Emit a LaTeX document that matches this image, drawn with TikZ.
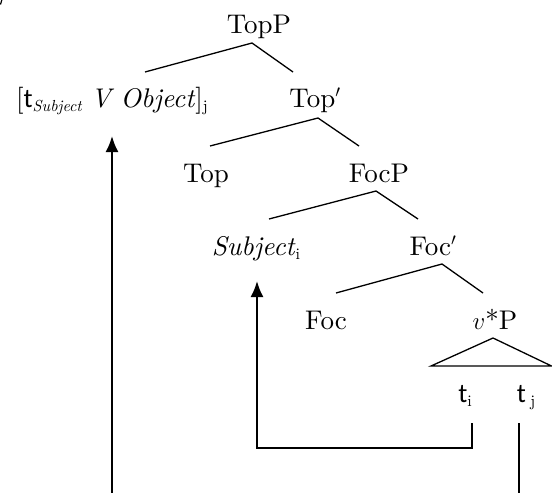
\documentclass[tikz,border=0pt]{standalone}
\usepackage{fontspec}
\usetikzlibrary{arrows.meta}
\setmainfont{lmroman10-regular.otf}[ItalicFont=lmroman10-italic.otf,BoldFont=lmroman10-bold.otf]
\newfontfamily\tfont{Carlito}
\newcommand\lsub[1]{\raisebox{-0.35ex}{\fontsize{16}{16}\selectfont #1}}
\begin{document}
\begin{tikzpicture}[x=1pt,y=-1pt,
  lab/.style={anchor=base,inner sep=0pt,font=\fontsize{27}{31}\selectfont},
  branch/.style={line width=1.3pt},
  move/.style={line width=2pt},
  movearrow/.style={line width=2pt,-{Latex[length=16pt,width=13pt]}}]
\useasboundingbox (0,0) rectangle (552,493);
% fragment top-left
\draw[line width=1.2pt] (0.5,4.5) -- (1.8,0);
% labels
\node[lab] (topp) at (259,33) {TopP};
\node[lab] (spec) at (112,107) {[{\tfont t}\lsub{\itshape Subject} \textit{V Object}]\lsub{j}};
\node[lab] (topbar) at (315,107) {Top$'$};
\node[lab] (top) at (206,182) {Top};
\node[lab] (focp) at (379,182) {FocP};
\node[lab] (subj) at (256,255) {\textit{Subject}\lsub{i}};
\node[lab] (focbar) at (433,255) {Foc$'$};
\node[lab] (foc) at (326,329) {Foc};
\node[lab] (vp) at (495,329) {$v$*P};
\node[lab] (ti) at (465,402) {{\tfont t}\lsub{i}};
\node[lab] (tj) at (526,402) {{\tfont t}\,\lsub{j}};
% tree coordinates
\coordinate (a1) at (252,43); \coordinate (l1) at (145,72); \coordinate (r1) at (293,72);
\coordinate (a2) at (318,118); \coordinate (l2) at (210,146); \coordinate (r2) at (359,146);
\coordinate (a3) at (376,191); \coordinate (l3) at (269,219); \coordinate (r3) at (418,219);
\coordinate (a4) at (442,264); \coordinate (l4) at (336,293); \coordinate (r4) at (483,293);
\coordinate (a5) at (493,338); \coordinate (l5) at (431,366); \coordinate (r5) at (551.5,366);
\draw[branch] (l1) -- (a1) -- (r1);
\draw[branch] (l2) -- (a2) -- (r2);
\draw[branch] (l3) -- (a3) -- (r3);
\draw[branch] (l4) -- (a4) -- (r4);
\draw[branch] (a5) -- (l5) -- (r5) -- cycle;
% movement
\coordinate (tifoot) at (472,423);
\coordinate (ticorner) at (472,448);
\coordinate (subjcorner) at (257,448);
\coordinate (subjtip) at (257,281);
\coordinate (tjfoot) at (519,423);
\coordinate (tjend) at (519,493);
\coordinate (specfoot) at (112,493);
\coordinate (spectip) at (112,136);
\draw[movearrow] (tifoot) -- (ticorner) -- (subjcorner) -- (subjtip);
\draw[move] (tjfoot) -- (tjend);
\draw[movearrow] (specfoot) -- (spectip);
\end{tikzpicture}
\end{document}
